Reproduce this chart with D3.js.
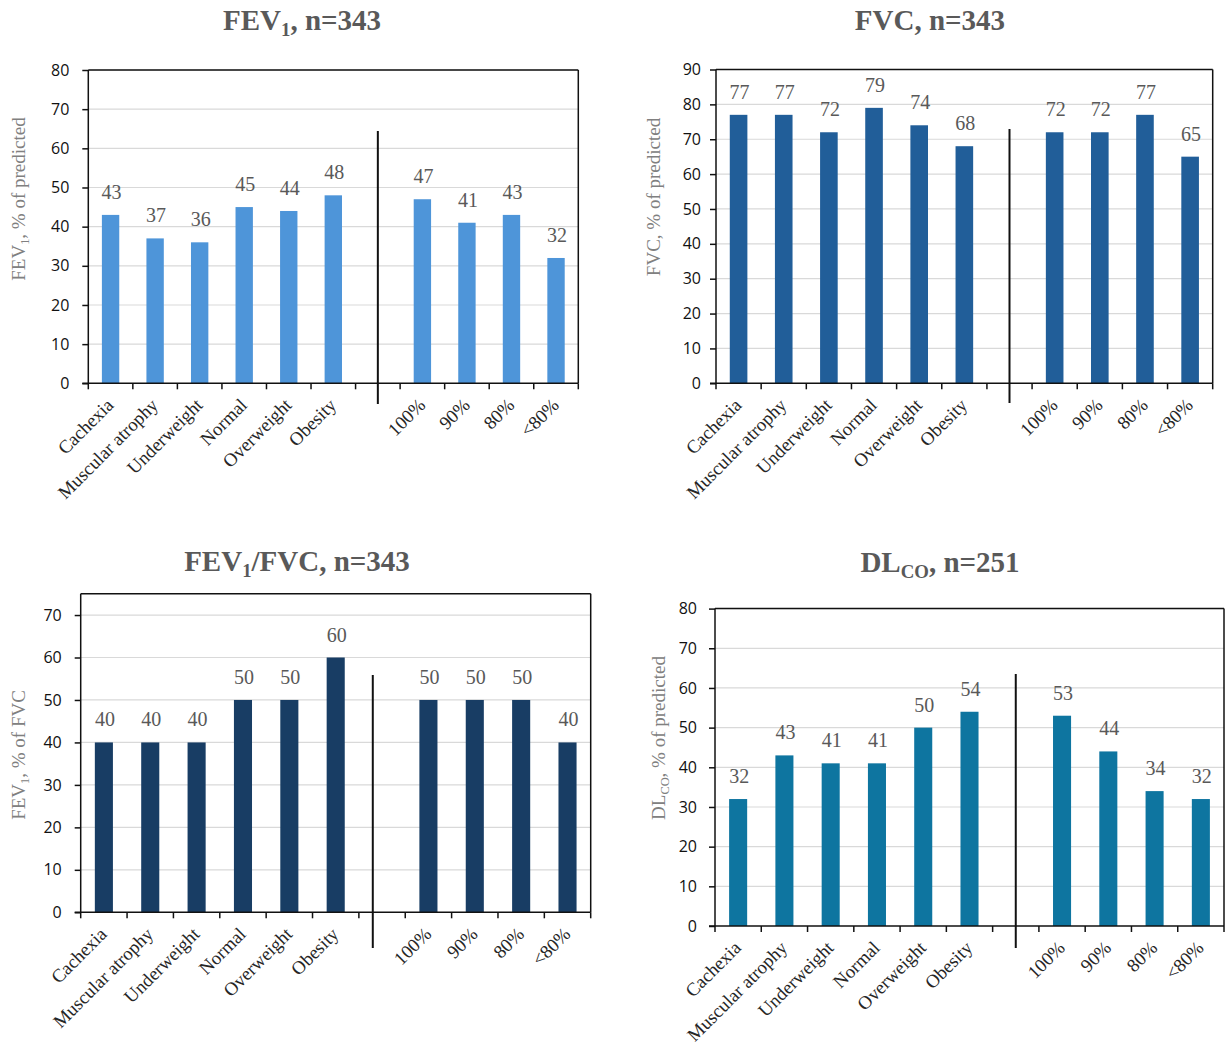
<!DOCTYPE html>
<html>
<head>
<meta charset="utf-8">
<script src="https://cdn.jsdelivr.net/npm/d3@7"></script>
<style>
  body { margin: 0; background: #fff; }
  svg { display: block; }
</style>
</head>
<body>
<svg id="chart" width="1226" height="1048"></svg>
<script>
// Groups along the x axis: body-composition phenotypes, a blank spacer slot, then FEV1 strata
const compositionGroups = ["Cachexia", "Muscular atrophy", "Underweight", "Normal", "Overweight", "Obesity"];
const fev1Groups = ["100%", "90%", "80%", "<80%"];
const spacerKey = "__spacer__";

// Mean values, % (same order as compositionGroups followed by fev1Groups)
const fev1Values  = [43, 37, 36, 45, 44, 48, 47, 41, 43, 32];
const fvcValues   = [77, 77, 72, 79, 74, 68, 72, 72, 77, 65];
const ratioValues = [40, 40, 40, 50, 50, 60, 50, 50, 50, 40];
const dlcoValues  = [32, 43, 41, 41, 50, 54, 53, 44, 34, 32];

// Y-axis tick labels for each panel
const fev1Ticks  = [0, 10, 20, 30, 40, 50, 60, 70, 80];
const fvcTicks   = [0, 10, 20, 30, 40, 50, 60, 70, 80, 90];
const ratioTicks = [0, 10, 20, 30, 40, 50, 60, 70];
const dlcoTicks  = [0, 10, 20, 30, 40, 50, 60, 70, 80];

const slots = [...compositionGroups, spacerKey, ...fev1Groups];
const barGroups = [...compositionGroups, ...fev1Groups];

// Panel layout: plot box, title/axis-title anchors and colours
const panels = [
  {
    title: [["FEV", 0], ["1", 1], [", n=343", 0]],
    yTitle: [["FEV", 0], ["1", 1], [", % of predicted", 0]],
    values: fev1Values, ticks: fev1Ticks, max: 80, color: "#4E95D9",
    box: { left: 88.3, right: 578.3, top: 70, bottom: 383.3 },
    titleAt: [302, 30], yTitleAt: [25, 199],
    sepFrac: 0.5, sepTop: 131, sepBottom: 404, tickGap: 13
  },
  {
    title: [["FVC, n=343", 0]],
    yTitle: [["FVC, % of predicted", 0]],
    values: fvcValues, ticks: fvcTicks, max: 90, color: "#215E99",
    box: { left: 716, right: 1212.7, top: 69.5, bottom: 383.3 },
    titleAt: [930, 30], yTitleAt: [660, 197],
    sepFrac: 0.5, sepTop: 129, sepBottom: 403, tickGap: 9
  },
  {
    title: [["FEV", 0], ["1", 1], ["/FVC, n=343", 0]],
    yTitle: [["FEV", 0], ["1", 1], [", % of FVC", 0]],
    values: ratioValues, ticks: ratioTicks, max: 75, color: "#183D64",
    box: { left: 80.7, right: 590.7, top: 593.8, bottom: 912.3 },
    titleAt: [297, 571], yTitleAt: [25, 755],
    sepFrac: 0.3, sepTop: 675, sepBottom: 948, tickGap: 13
  },
  {
    title: [["DL", 0], ["CO", 1], [", n=251", 0]],
    yTitle: [["DL", 0], ["CO", 1], [", % of predicted", 0]],
    values: dlcoValues, ticks: dlcoTicks, max: 80, color: "#0E75A0",
    box: { left: 715, right: 1224, top: 608.6, bottom: 926 },
    titleAt: [940, 571.5], yTitleAt: [665, 738],
    sepFrac: 0.5, sepTop: 674, sepBottom: 948, tickGap: 12
  }
];

const svg = d3.select("#chart");
const serif = "'Liberation Serif', 'Times New Roman', serif";
const sans = "'Open Sans', 'Liberation Sans', sans-serif";

// Writes runs of normal / subscript text into a text element
function richText(sel, runs, subShift) {
  runs.forEach(([str, sub], i) => {
    const t = sel.append("tspan").text(str);
    if (sub) {
      t.attr("font-size", "0.65em").attr("dy", subShift);
    } else if (i > 0 && runs[i - 1][1]) {
      t.attr("dy", -subShift);
    }
  });
}

function drawPanel(p) {
  const { left, right, top, bottom } = p.box;
  const g = svg.append("g");

  const x = d3.scaleBand().domain(slots).range([left, right]).padding(0);
  const y = d3.scaleLinear().domain([0, p.max]).range([bottom, top]);
  const bw = x.bandwidth();
  const barW = bw * 0.39;

  // Horizontal gridlines
  g.append("g").selectAll("line")
    .data(p.ticks.filter(t => t > 0))
    .join("line")
    .attr("x1", left).attr("x2", right)
    .attr("y1", d => y(d)).attr("y2", d => y(d))
    .attr("stroke", "#d9d9d9").attr("stroke-width", 1.2);

  // Plot-area frame (top and right edges)
  g.append("line").attr("x1", left).attr("x2", right).attr("y1", top).attr("y2", top)
    .attr("stroke", "#111").attr("stroke-width", 1.5);
  g.append("line").attr("x1", right).attr("x2", right).attr("y1", top).attr("y2", bottom)
    .attr("stroke", "#111").attr("stroke-width", 1.5);

  // Bars
  g.append("g").selectAll("rect")
    .data(barGroups.map((k, i) => ({ k, v: p.values[i] })))
    .join("rect")
    .attr("x", d => x(d.k) + (bw - barW) / 2)
    .attr("width", barW)
    .attr("y", d => y(d.v))
    .attr("height", d => y(0) - y(d.v))
    .attr("fill", p.color);

  // Value labels above bars
  g.append("g").selectAll("text")
    .data(barGroups.map((k, i) => ({ k, v: p.values[i] })))
    .join("text")
    .attr("x", d => x(d.k) + bw / 2 + 1)
    .attr("y", d => y(d.v) - 16)
    .attr("text-anchor", "middle")
    .attr("font-family", serif).attr("font-size", 20)
    .attr("fill", "#595959")
    .text(d => d.v);

  // Y axis
  const yAxis = d3.axisLeft(y).tickValues(p.ticks).tickSize(6).tickSizeOuter(0).tickPadding(p.tickGap);
  const ya = g.append("g").attr("transform", `translate(${left},0)`).call(yAxis);
  ya.select(".domain").attr("stroke", "#111").attr("stroke-width", 1.5).attr("d", `M0,${top}V${bottom}`);
  ya.selectAll(".tick line").attr("stroke", "#111").attr("stroke-width", 1.5);
  ya.selectAll(".tick text").attr("font-family", sans).attr("font-size", 16).attr("fill", "#111");

  // X axis baseline with ticks at slot boundaries
  g.append("line").attr("x1", left - 6).attr("x2", right).attr("y1", bottom).attr("y2", bottom)
    .attr("stroke", "#111").attr("stroke-width", 1.5);
  const bounds = slots.map(s => x(s)).concat([x.range()[1]]);
  g.append("g").selectAll("line").data(bounds).join("line")
    .attr("x1", d => d).attr("x2", d => d)
    .attr("y1", bottom).attr("y2", bottom + 6)
    .attr("stroke", "#111").attr("stroke-width", 1.5);

  // Rotated category labels
  g.append("g").selectAll("text").data(barGroups).join("text")
    .attr("transform", d => `translate(${x(d) + bw / 2 + 4},${bottom + 23}) rotate(-45)`)
    .attr("text-anchor", "end")
    .attr("font-family", serif).attr("font-size", 18.7)
    .attr("fill", "#262626")
    .text(d => d);

  // Vertical divider between the two groupings
  const sx = x(spacerKey) + bw * p.sepFrac;
  g.append("line").attr("x1", sx).attr("x2", sx).attr("y1", p.sepTop).attr("y2", p.sepBottom)
    .attr("stroke", "#111").attr("stroke-width", 2);

  // Panel title
  const tt = g.append("text")
    .attr("x", p.titleAt[0]).attr("y", p.titleAt[1])
    .attr("text-anchor", "middle")
    .attr("font-family", serif).attr("font-weight", "bold").attr("font-size", 29)
    .attr("fill", "#595959");
  richText(tt, p.title, 6);

  // Y-axis title
  const yt = g.append("text")
    .attr("transform", `translate(${p.yTitleAt[0]},${p.yTitleAt[1]}) rotate(-90)`)
    .attr("text-anchor", "middle")
    .attr("font-family", serif).attr("font-size", 19)
    .attr("fill", "#808080");
  richText(yt, p.yTitle, 4);
}

panels.forEach(drawPanel);
</script>
</body>
</html>
